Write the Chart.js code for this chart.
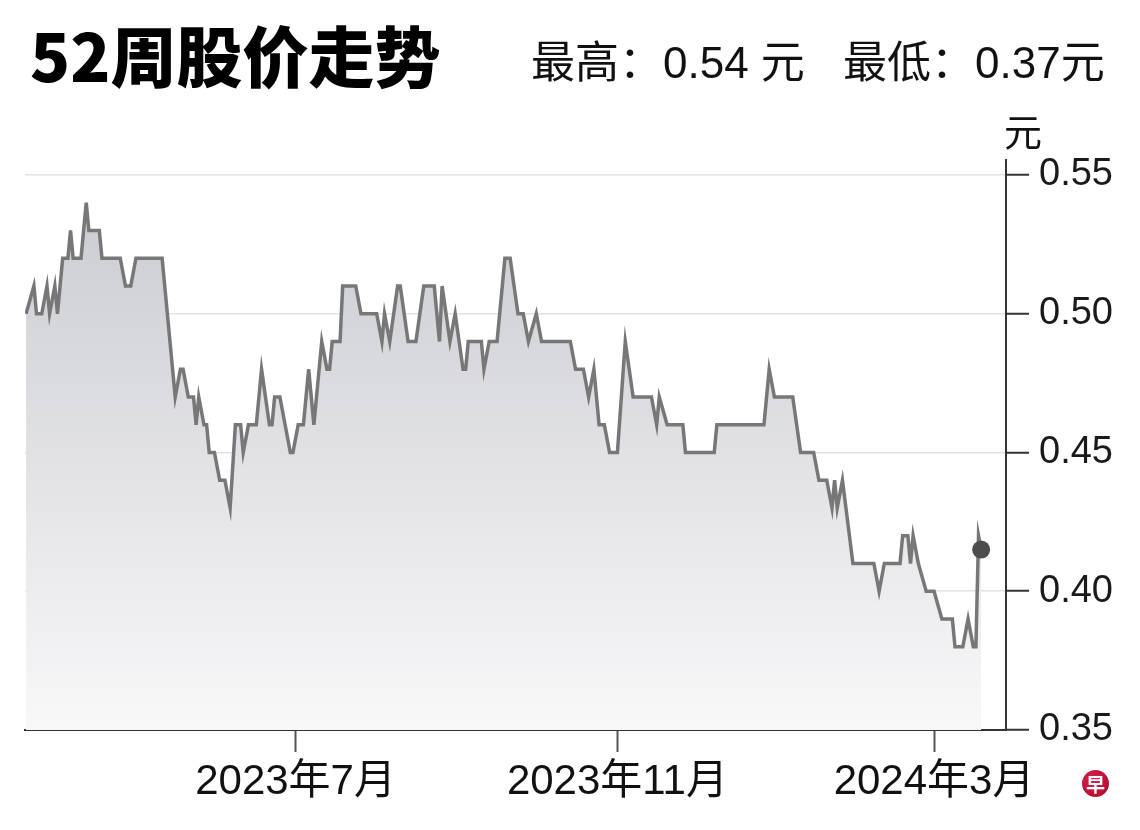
<!DOCTYPE html>
<html>
<head>
<meta charset="utf-8">
<script src="https://cdn.jsdelivr.net/npm/chart.js@4.4.1/dist/chart.umd.min.js"></script>
<style>
  body { margin: 0; background: #fff; }
  #wrap { position: relative; width: 1140px; height: 830px; overflow: hidden; }
  .txt { position: absolute; white-space: nowrap; line-height: 1; color: #111; }
  #logo { position: absolute; left: 1082px; top: 770px; width: 27px; height: 27px; border-radius: 50%;
          background: radial-gradient(circle at 40% 35%, #d8234a, #a8062c); color: #fff;
          font: bold 19px "Noto Sans CJK SC"; line-height: 27px; text-align: center; }
</style>
</head>
<body>
<div id="wrap">
  <canvas id="chart" width="1140" height="830"></canvas>
  <div class="txt" style="left:30px; top:5px; font: 900 66px 'Noto Sans CJK SC'; color:#000;">52周股价走势</div>
  <div class="txt" style="left:531px; top:27px; font: 44px 'Liberation Sans', 'Noto Sans CJK SC';">最高：0.54 元</div>
  <div class="txt" style="left:843px; top:27px; font: 44px 'Liberation Sans', 'Noto Sans CJK SC';">最低：0.37元</div>
  <div class="txt" style="left:1004px; top:102px; font: 38px 'Noto Sans CJK SC';">元</div>
  <div id="logo">早</div>
</div>
<script>
// days since 2023-01-01
const days = [78, 81, 82, 84, 86, 87, 89, 90, 92, 94, 95, 96, 99, 101, 102, 106, 107, 114, 116, 118,
  120, 130, 132, 135, 137, 138, 140, 142, 143, 144, 146, 147, 148, 150, 152, 154, 156, 158, 160, 161,
  163, 166, 168, 171, 172, 173, 175, 177, 179, 180, 182, 184, 186, 188, 191, 193, 194, 195, 198, 199,
  204, 206, 212, 214, 215, 217, 220, 221, 224, 227, 230, 234, 236, 237, 240, 242, 245, 246, 247, 252,
  253, 255, 258, 261, 263, 266, 268, 270, 273, 275, 286, 288, 291, 293, 295, 297, 299, 301, 304, 307,
  310, 317, 319, 320, 323, 329, 330, 341, 342, 360, 362, 364, 371, 374, 379, 381, 384, 386, 387, 388,
  390, 394, 402, 404, 406, 412, 413, 415, 416, 417, 419, 422, 425, 428, 432, 433, 436, 438, 440, 441,
  442, 443];
const prices = [0.50, 0.51, 0.50, 0.50, 0.51, 0.50, 0.51, 0.50, 0.52, 0.52, 0.53, 0.52, 0.52, 0.54, 0.53, 0.53, 0.52, 0.52, 0.51, 0.51,
  0.52, 0.52, 0.50, 0.47, 0.48, 0.48, 0.47, 0.47, 0.46, 0.47, 0.46, 0.46, 0.45, 0.45, 0.44, 0.44, 0.43, 0.46, 0.46, 0.45,
  0.46, 0.46, 0.48, 0.46, 0.46, 0.47, 0.47, 0.46, 0.45, 0.45, 0.46, 0.46, 0.48, 0.46, 0.49, 0.48, 0.48, 0.49, 0.49, 0.51,
  0.51, 0.50, 0.50, 0.49, 0.50, 0.49, 0.51, 0.51, 0.49, 0.49, 0.51, 0.51, 0.49, 0.51, 0.49, 0.50, 0.48, 0.48, 0.49, 0.49,
  0.48, 0.49, 0.49, 0.52, 0.52, 0.50, 0.50, 0.49, 0.50, 0.49, 0.49, 0.48, 0.48, 0.47, 0.48, 0.46, 0.46, 0.45, 0.45, 0.49,
  0.47, 0.47, 0.46, 0.47, 0.46, 0.46, 0.45, 0.45, 0.46, 0.46, 0.48, 0.47, 0.47, 0.45, 0.45, 0.44, 0.44, 0.43, 0.44, 0.43,
  0.44, 0.41, 0.41, 0.40, 0.41, 0.41, 0.42, 0.42, 0.41, 0.42, 0.41, 0.40, 0.40, 0.39, 0.39, 0.38, 0.38, 0.39, 0.38, 0.38,
  0.42, 0.415];

const xTickDays = [181, 304, 425];
const xTickLabels = ["2023年7月", "2023年11月", "2024年3月"];
const yTicks = [0.35, 0.40, 0.45, 0.50, 0.55];

const points = days.map((d, i) => ({ x: d, y: prices[i] }));
const lastIdx = points.length - 1;
const labelFont = "'Liberation Sans', 'Noto Sans CJK SC', sans-serif";

new Chart(document.getElementById("chart"), {
  type: "line",
  data: {
    datasets: [{
      data: points,
      borderColor: "#777777",
      borderWidth: 3.5,
      tension: 0,
      fill: "start",
      backgroundColor: (ctx) => {
        const area = ctx.chart.chartArea;
        if (!area) return "#e4e4e7";
        const g = ctx.chart.ctx.createLinearGradient(0, area.top, 0, area.bottom);
        g.addColorStop(0, "#c8c9ce");
        g.addColorStop(1, "#f8f8f9");
        return g;
      },
      pointRadius: (ctx) => (ctx.dataIndex === lastIdx ? 9 : 0),
      pointBackgroundColor: "#4d4d4d",
      pointBorderWidth: 0
    }]
  },
  options: {
    responsive: false,
    animation: false,
    layout: { padding: { left: 25, top: 160, right: 0, bottom: 0 } },
    plugins: { legend: { display: false }, tooltip: { enabled: false } },
    scales: {
      x: {
        type: "linear",
        min: 77.6,
        max: 452.5,
        afterBuildTicks: (s) => { s.ticks = xTickDays.map((v) => ({ value: v })); },
        afterFit: (s) => { s.height = 100; },
        ticks: {
          autoSkip: false,
          maxRotation: 0,
          padding: 5,
          color: "#111",
          font: { size: 42, family: labelFont },
          callback: (v) => xTickLabels[xTickDays.indexOf(v)]
        },
        grid: { drawOnChartArea: false, tickLength: 22, tickColor: "#555", tickWidth: 2 },
        border: { color: "#333", width: 2 }
      },
      y: {
        position: "right",
        min: 0.35,
        max: 0.5554,
        afterBuildTicks: (s) => { s.ticks = yTicks.map((v) => ({ value: v })); },
        afterFit: (s) => { s.width = 134; },
        ticks: {
          padding: 10,
          color: "#1a1a1a",
          font: { size: 38, family: labelFont },
          callback: (v) => v.toFixed(2)
        },
        grid: { color: "#e2e2e4", lineWidth: 1.5, tickColor: "#333", tickLength: 23, tickWidth: 2 },
        border: { color: "#333", width: 2 }
      }
    }
  }
});
</script>
</body>
</html>
